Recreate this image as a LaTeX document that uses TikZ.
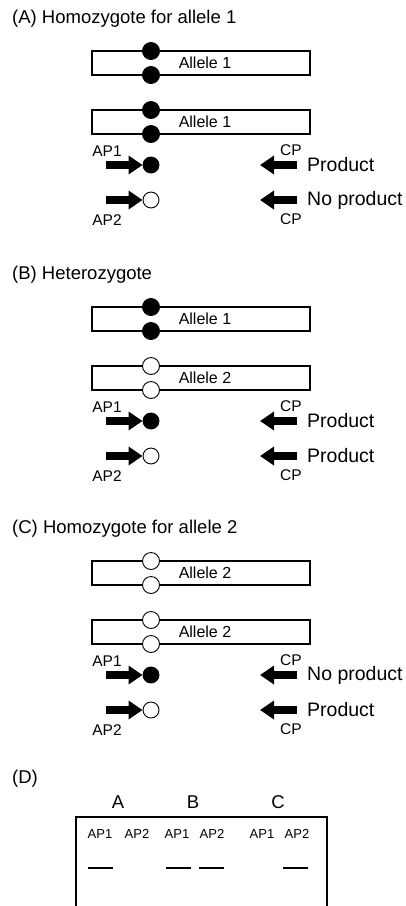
\documentclass[tikz,border=0pt]{standalone}
\usepackage{fontspec}
\setmainfont{Liberation Sans}
\usetikzlibrary{arrows.meta, positioning}

\begin{document}
\begin{tikzpicture}[
  x=1pt, y=-1pt,
  allele/.style={rectangle, draw, line width=1.2pt, minimum width=218pt, minimum height=24pt, inner sep=0pt},
  alleletext/.style={inner sep=0pt, font=\fontsize{16}{18}\selectfont},
  site/.style={circle, draw, line width=0.9pt, minimum size=17pt, inner sep=0pt},
  probe/.style={circle, draw, line width=0.9pt, minimum size=16pt, inner sep=0pt},
  primer/.style={line width=8pt, -{Triangle[length=14pt, width=18pt]}},
  tag/.style={inner sep=0pt, font=\fontsize{15.5}{17}\selectfont},
  result/.style={anchor=west, inner sep=0pt, font=\fontsize{19.5}{22}\selectfont},
  heading/.style={anchor=west, inner sep=0pt, font=\fontsize{18.5}{22}\selectfont},
  lane/.style={inner sep=0pt, font=\fontsize{13}{15}\selectfont},
  band/.style={line width=1.2pt}
]
\useasboundingbox (0,0) rectangle (406,906);

% Panels A-C: the two alleles, then AP1/AP2 against the common primer
\foreach \p/\y/\ttl/\ea/\fa/\eb/\fb/\ra/\rb in {
  A/0/{(A) Homozygote for allele 1}/1/black/1/black/Product/{No product},
  B/256/{(B) Heterozygote}/1/black/2/white/Product/Product,
  C/510/{(C) Homozygote for allele 2}/2/white/2/white/{No product}/Product} {
  \node[heading] (title\p) at (12,19+\y) {\ttl};

  % alleles with the SNP site on both strands
  \node[allele] (one\p) at (201,63+\y) {};
  \node[allele] (two\p) at (201,122+\y) {};
  \node[alleletext] (onetxt\p) at (205,63+\y) {Allele \ea};
  \node[alleletext] (twotxt\p) at (205,122+\y) {Allele \eb};
  \node[site, fill=\fa] (s1\p) at (151,51+\y) {};
  \node[site, fill=\fa] (s2\p) at (151,75+\y) {};
  \node[site, fill=\fb] (s3\p) at (151,110+\y) {};
  \node[site, fill=\fb] (s4\p) at (151,134+\y) {};

  % allele-specific primers
  \node[probe, fill=black] (m1\p) at (151,165+\y) {};
  \node[probe, fill=white] (m2\p) at (151,200+\y) {};
  \coordinate (ap1\p) at (106,165+\y);
  \coordinate (ap2\p) at (106,200+\y);
  \draw[primer] (ap1\p) -- (m1\p.west);
  \draw[primer] (ap2\p) -- (m2\p.west);
  \node[tag] (lab1\p) at (107,151+\y) {AP1};
  \node[tag] (lab2\p) at (107,220+\y) {AP2};

  % common primer and outcome
  \coordinate (cp1\p) at (297,165+\y);
  \coordinate (cpend1\p) at (260,165+\y);
  \coordinate (cp2\p) at (297,200+\y);
  \coordinate (cpend2\p) at (260,200+\y);
  \draw[primer] (cp1\p) -- (cpend1\p);
  \draw[primer] (cp2\p) -- (cpend2\p);
  \node[tag] (cplab1\p) at (291,150+\y) {CP};
  \node[tag] (cplab2\p) at (291,219+\y) {CP};
  \node[result] (res1\p) at (307,165+\y) {\ra};
  \node[result] (res2\p) at (307,200+\y) {\rb};
}

% Panel D: gel
\node[heading] (titleD) at (12,779) {(D)};
\foreach \g/\x in {A/118, B/193, C/278}
  \node[inner sep=0pt, font=\fontsize{18.5}{22}\selectfont] (gel\g) at (\x,802) {\g};
\draw[line width=1.2pt] (76,912) -- (76,817) -- (327,817) -- (327,912);
\foreach \g/\n/\x in {A/1/100, A/2/137, B/1/177, B/2/212, C/1/262, C/2/297}
  \node[lane] (lane\g\n) at (\x,834) {AP\n};
\foreach \x in {88,166,199,283}
  \draw[band] (\x,868) -- ++(25,0);

\end{tikzpicture}
\end{document}
